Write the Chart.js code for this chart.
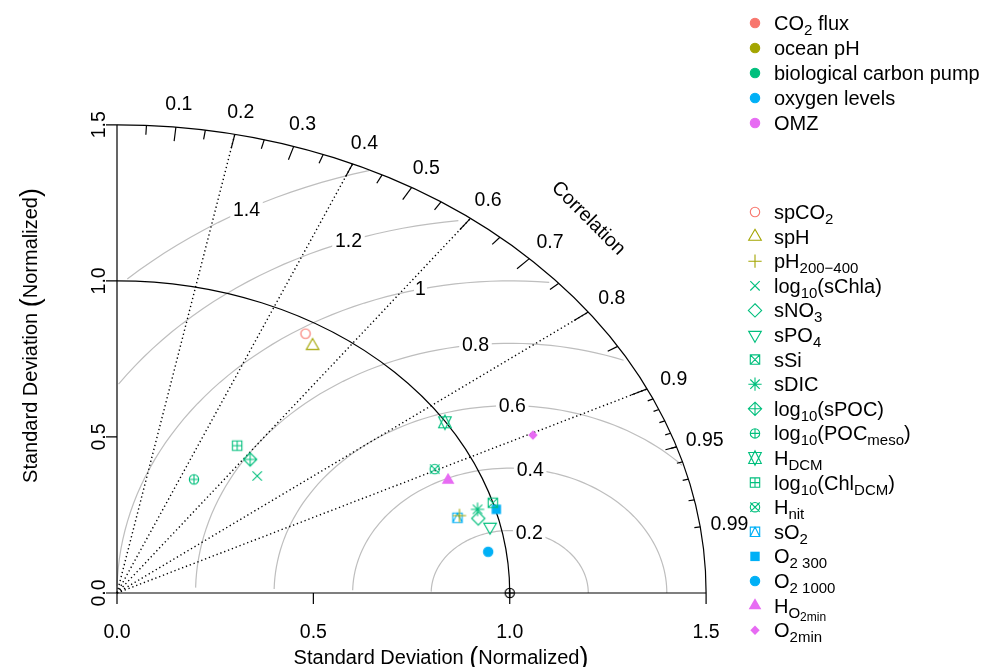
<!DOCTYPE html>
<html>
<head>
<meta charset="utf-8">
<script src="https://cdn.jsdelivr.net/npm/chart.js@4.4.1/dist/chart.umd.min.js"></script>
<style>
html, body { margin: 0; padding: 0; background: #fff; }
canvas { display: block; }
</style>
</head>
<body>
<canvas id="taylor" width="983" height="667"></canvas>
<script>
const FONT = '"Liberation Sans", Arial, sans-serif';

// top legend: groups
const groupLabels = [
    [['CO', 0], ['2', 1], [' flux', 0]],
    [['ocean pH', 0]],
    [['biological carbon pump', 0]],
    [['oxygen levels', 0]],
    [['OMZ', 0]],
];
const groupColors = ['#F8766D', '#A3A500', '#00BF7D', '#00B0F6', '#E76BF3'];

// variables (second legend), [text, subscript level]
const varLabels = [
    [['spCO', 0], ['2', 1]],
    [['spH', 0]],
    [['pH', 0], ['200\u2212400', 1]],
    [['log', 0], ['10', 1], ['(sChla)', 0]],
    [['sNO', 0], ['3', 1]],
    [['sPO', 0], ['4', 1]],
    [['sSi', 0]],
    [['sDIC', 0]],
    [['log', 0], ['10', 1], ['(sPOC)', 0]],
    [['log', 0], ['10', 1], ['(POC', 0], ['meso', 1], [')', 0]],
    [['H', 0], ['DCM', 1]],
    [['log', 0], ['10', 1], ['(Chl', 0], ['DCM', 1], [')', 0]],
    [['H', 0], ['nit', 1]],
    [['sO', 0], ['2', 1]],
    [['O', 0], ['2 300', 1]],
    [['O', 0], ['2 1000', 1]],
    [['H', 0], ['O', 1], ['2min', 2]],
    [['O', 0], ['2min', 1]],
];
const varGroup = [0, 1, 1, 2, 2, 2, 2, 2, 2, 2, 2, 2, 2, 3, 3, 3, 4, 4];
const varPch = [1, 2, 3, 4, 5, 6, 7, 8, 9, 10, 11, 12, 13, 14, 15, 16, 17, 18];
// normalized sd split into x (sd*cor) and y (sd*sqrt(1-cor^2))
const sdX = [0.480, 0.498, 0.872, 0.357, 0.920, 0.950, 0.957, 0.918, 0.339, 0.196,
             0.835, 0.306, 0.809, 0.867, 0.966, 0.945, 0.843, 1.059];
const sdY = [0.831, 0.792, 0.248, 0.375, 0.239, 0.212, 0.289, 0.268, 0.428, 0.364,
             0.547, 0.472, 0.397, 0.241, 0.268, 0.132, 0.362, 0.506];

const refPoint = [1.0, 0.0];
const maxSd = 1.5;
const axisTicks = [0, 0.5, 1.0, 1.5];
const axisTickLabels = ['0.0', '0.5', '1.0', '1.5'];
const corrLines = [0.2, 0.4, 0.6, 0.8, 0.9];
const corrLabels = [0.1, 0.2, 0.3, 0.4, 0.5, 0.6, 0.7, 0.8, 0.9, 0.95, 0.99];
const gammas = [0.2, 0.4, 0.6, 0.8, 1.0, 1.2, 1.4];
const gammaLabels = ['0.2', '0.4', '0.6', '0.8', '1', '1.2', '1.4'];
const gammaLabelPos = [44, 48, 52, 56, 60, 64, 69];

// R style plotting symbols
const XC = 4.7;
function drawPch(ctx, pch, x, y, col) {
    const c = XC, s2 = Math.SQRT2 * XC;
    const tr = 1.552 * c, tw = 1.345 * c, th = 0.776 * c;
    ctx.save();
    ctx.strokeStyle = col;
    ctx.fillStyle = col;
    ctx.lineWidth = 1.1;
    ctx.beginPath();
    const plus = (r) => { ctx.moveTo(x - r, y); ctx.lineTo(x + r, y); ctx.moveTo(x, y - r); ctx.lineTo(x, y + r); };
    const cross = (r) => { ctx.moveTo(x - r, y - r); ctx.lineTo(x + r, y + r); ctx.moveTo(x - r, y + r); ctx.lineTo(x + r, y - r); };
    const diamond = (r) => { ctx.moveTo(x, y - r); ctx.lineTo(x + r, y); ctx.lineTo(x, y + r); ctx.lineTo(x - r, y); ctx.closePath(); };
    const circle = (r) => { ctx.moveTo(x + r, y); ctx.arc(x, y, r, 0, 2 * Math.PI); };
    const triUp = () => { ctx.moveTo(x, y - tr); ctx.lineTo(x + tw, y + th); ctx.lineTo(x - tw, y + th); ctx.closePath(); };
    switch (pch) {
        case 1: circle(c); ctx.stroke(); break;
        case 2: triUp(); ctx.stroke(); break;
        case 3: plus(s2); ctx.stroke(); break;
        case 4: cross(c); ctx.stroke(); break;
        case 5: diamond(s2); ctx.stroke(); break;
        case 6:
            ctx.moveTo(x, y + tr); ctx.lineTo(x + tw, y - th); ctx.lineTo(x - tw, y - th); ctx.closePath();
            ctx.stroke(); break;
        case 7: ctx.rect(x - c, y - c, 2 * c, 2 * c); cross(c); ctx.stroke(); break;
        case 8: cross(c); plus(s2); ctx.stroke(); break;
        case 9: diamond(s2); plus(s2); ctx.stroke(); break;
        case 10: circle(c); plus(c); ctx.stroke(); break;
        case 11: {
            const yc = 0.5 * (th + tr);
            ctx.moveTo(x, y + tr); ctx.lineTo(x + tw, y - yc); ctx.lineTo(x - tw, y - yc); ctx.closePath();
            ctx.moveTo(x, y - tr); ctx.lineTo(x + tw, y + yc); ctx.lineTo(x - tw, y + yc); ctx.closePath();
            ctx.stroke(); break;
        }
        case 12: ctx.rect(x - c, y - c, 2 * c, 2 * c); plus(c); ctx.stroke(); break;
        case 13: circle(c); cross(c); ctx.stroke(); break;
        case 14:
            ctx.rect(x - c, y - c, 2 * c, 2 * c);
            ctx.moveTo(x, y - c); ctx.lineTo(x + c, y + c); ctx.lineTo(x - c, y + c); ctx.closePath();
            ctx.stroke(); break;
        case 15: ctx.rect(x - c, y - c, 2 * c, 2 * c); ctx.fill(); break;
        case 16: circle(c); ctx.fill(); ctx.stroke(); break;
        case 17: triUp(); ctx.fill(); break;
        case 18: diamond(c); ctx.fill(); break;
    }
    ctx.restore();
}

function pchImage(pch, col) {
    const cv = document.createElement('canvas');
    cv.width = 24;
    cv.height = 24;
    drawPch(cv.getContext('2d'), pch, 12, 12, col);
    return cv;
}

// text with subscripts, y = baseline
function drawRich(ctx, segs, x, y) {
    const sizes = [20, 15, 12];
    const drops = [0, 5, 8];
    let cx = x;
    ctx.textAlign = 'left';
    ctx.textBaseline = 'alphabetic';
    segs.forEach(([t, l]) => {
        ctx.font = sizes[l] + 'px ' + FONT;
        ctx.fillText(t, cx, y + drops[l]);
        cx += ctx.measureText(t).width;
    });
}

function drawAxisTitle(ctx, x, y) {
    const parts = [['Standard Deviation ', 20], ['(', 27], ['Normalized', 20], [')', 27]];
    let w = 0;
    parts.forEach(([t, s]) => { ctx.font = s + 'px ' + FONT; w += ctx.measureText(t).width; });
    let cx = x - w / 2;
    ctx.textAlign = 'left';
    ctx.textBaseline = 'alphabetic';
    parts.forEach(([t, s]) => {
        ctx.font = s + 'px ' + FONT;
        ctx.fillText(t, cx, y + (s > 20 ? 2 : 0));
        cx += ctx.measureText(t).width;
    });
}

const taylorGrid = {
    id: 'taylorGrid',
    beforeDatasetsDraw(chart) {
        const ctx = chart.ctx;
        const xs = chart.scales.x, ys = chart.scales.y;
        const px = v => xs.getPixelForValue(v);
        const py = v => ys.getPixelForValue(v);
        const kx = px(1) - px(0), ky = py(0) - py(1);
        const ox = px(0), oy = py(0);
        ctx.save();

        // centred RMS difference arcs (R: step 0.03 rad)
        ctx.strokeStyle = '#BEBEBE';
        ctx.lineWidth = 1.2;
        const gammaPts = [];
        gammas.forEach(g => {
            const pts = [];
            for (let i = 0; i < 105; i++) {
                const t = i * 0.03;
                pts.push([Math.cos(t) * g + refPoint[0], Math.sin(t) * g]);
            }
            let end = pts.findIndex(p => p[0] < 0);
            end = end < 0 ? pts.length - 1 : end - 1;
            let start = 0;
            pts.forEach((p, i) => { if (p[0] * p[0] + p[1] * p[1] > maxSd * maxSd) start = i + 1; });
            ctx.beginPath();
            for (let i = start; i <= end; i++) {
                const X = px(pts[i][0]), Y = py(pts[i][1]);
                if (i === start) ctx.moveTo(X, Y); else ctx.lineTo(X, Y);
            }
            ctx.stroke();
            gammaPts.push(pts);
        });

        // dotted correlation rays
        ctx.strokeStyle = '#000';
        ctx.lineWidth = 1.4;
        ctx.setLineDash([1.3, 2.8]);
        corrLines.forEach(r => {
            ctx.beginPath();
            ctx.moveTo(ox, oy);
            ctx.lineTo(px(maxSd * r), py(maxSd * Math.sqrt(1 - r * r)));
            ctx.stroke();
        });
        ctx.setLineDash([]);

        // gamma labels on white boxes
        ctx.font = '19.5px ' + FONT;
        ctx.textAlign = 'center';
        ctx.textBaseline = 'middle';
        gammas.forEach((g, i) => {
            const p = gammaPts[i][gammaLabelPos[i]];
            const X = px(p[0]), Y = py(p[1]);
            const w = ctx.measureText(gammaLabels[i]).width * 1.2;
            ctx.fillStyle = '#fff';
            ctx.fillRect(X - w / 2, Y - 10, w, 20);
            ctx.fillStyle = '#000';
            ctx.fillText(gammaLabels[i], X, Y + 1);
        });

        // outer arc and reference arc
        ctx.strokeStyle = '#000';
        ctx.lineWidth = 1.2;
        [maxSd, refPoint[0]].forEach(r => {
            ctx.beginPath();
            ctx.ellipse(ox, oy, r * kx, r * ky, 0, -Math.PI / 2, 0);
            ctx.stroke();
        });

        // correlation ticks
        const tick = (cors, inner) => {
            cors.forEach(c => {
                const s = Math.sqrt(1 - c * c);
                ctx.beginPath();
                ctx.moveTo(px(maxSd * c), py(maxSd * s));
                ctx.lineTo(px(maxSd * inner * c), py(maxSd * inner * s));
                ctx.stroke();
            });
        };
        tick([0.1, 0.2, 0.3, 0.4, 0.5, 0.6, 0.7, 0.8, 0.9], 0.97);
        tick([0.05, 0.15, 0.25, 0.35, 0.45, 0.55, 0.65, 0.75, 0.85, 0.95], 0.98);
        tick([0.91, 0.92, 0.93, 0.94, 0.95, 0.96, 0.97, 0.98, 0.99], 0.99);

        // correlation labels
        ctx.fillStyle = '#000';
        corrLabels.forEach(c => {
            const s = Math.sqrt(1 - c * c);
            ctx.fillText(String(c), px(1.05 * maxSd * c), py(1.05 * maxSd * s) + 1);
        });
        ctx.save();
        ctx.translate(px(0.8 * maxSd), py(0.8 * maxSd));
        ctx.rotate(Math.PI / 4);
        ctx.fillText('Correlation', 0, 0);
        ctx.restore();

        // axes
        ctx.beginPath();
        ctx.moveTo(ox, py(maxSd));
        ctx.lineTo(ox, oy);
        ctx.lineTo(px(maxSd), oy);
        axisTicks.forEach(v => {
            ctx.moveTo(px(v), oy); ctx.lineTo(px(v), oy + 11);
            ctx.moveTo(ox, py(v)); ctx.lineTo(ox - 11, py(v));
        });
        ctx.stroke();
        axisTicks.forEach((v, i) => {
            ctx.fillText(axisTickLabels[i], px(v), oy + 40);
            ctx.save();
            ctx.translate(ox - 17, py(v));
            ctx.rotate(-Math.PI / 2);
            ctx.fillText(axisTickLabels[i], 0, 0);
            ctx.restore();
        });

        // axis titles
        ctx.fillStyle = '#000';
        drawAxisTitle(ctx, (chart.chartArea.left + chart.chartArea.right) / 2, 664);
        ctx.save();
        ctx.translate(37, (chart.chartArea.top + chart.chartArea.bottom) / 2);
        ctx.rotate(-Math.PI / 2);
        drawAxisTitle(ctx, 0, 0);
        ctx.restore();
        ctx.restore();
    },
    afterDraw(chart) {
        const ctx = chart.ctx;
        ctx.save();
        groupLabels.forEach((segs, i) => {
            const y = 23 + i * 25;
            drawPch(ctx, 16, 755, y, groupColors[i]);
            ctx.fillStyle = '#000';
            drawRich(ctx, segs, 774, y + 7);
        });
        varLabels.forEach((segs, i) => {
            const y = 212 + i * 24.6;
            drawPch(ctx, varPch[i], 755, y, groupColors[varGroup[i]]);
            ctx.fillStyle = '#000';
            drawRich(ctx, segs, 774, y + 7);
        });
        ctx.restore();
    }
};

const datasets = varLabels.map((segs, i) => ({
    label: segs.map(s => s[0]).join(''),
    data: [{ x: sdX[i], y: sdY[i] }],
    pointStyle: pchImage(varPch[i], groupColors[varGroup[i]]),
    clip: false,
}));
datasets.push({
    label: 'reference',
    data: [{ x: refPoint[0], y: refPoint[1] }],
    pointStyle: pchImage(10, '#000'),
    clip: false,
});

new Chart(document.getElementById('taylor').getContext('2d'), {
    type: 'scatter',
    data: { datasets: datasets },
    options: {
        responsive: false,
        animation: false,
        events: [],
        layout: { padding: { left: 117, right: 218, top: 78, bottom: 74 } },
        plugins: { legend: { display: false }, tooltip: { enabled: false } },
        scales: {
            x: { type: 'linear', min: 0, max: 1.65, display: false },
            y: { type: 'linear', min: 0, max: 1.65, display: false },
        },
    },
    plugins: [taylorGrid],
});
</script>
</body>
</html>
